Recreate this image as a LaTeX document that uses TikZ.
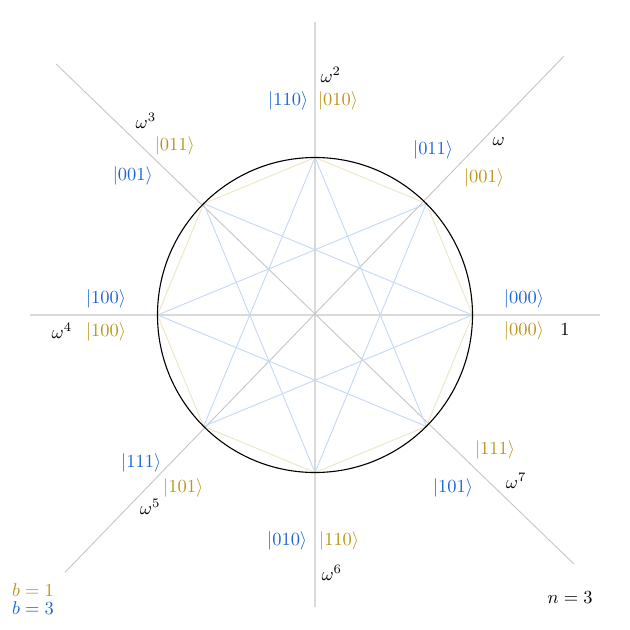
\documentclass[tikz,border=0pt]{standalone}
\usepackage{amsmath,amssymb}
\usepackage{xcolor}
\usepackage{tikz}
\usetikzlibrary{positioning}

\definecolor{ketblue}{RGB}{25,100,215}
\definecolor{ketgold}{RGB}{185,150,20}

\begin{document}
\begin{tikzpicture}[
  axis/.style={draw=gray!30, line width=0.9pt},
  diag/.style={draw=gray!45, line width=0.5pt},
  octo/.style={draw=ketgold!25, line width=0.5pt},
  starline/.style={draw=ketblue!25, line width=0.5pt},
  ketb/.style={text=ketblue, inner sep=1pt},
  ketg/.style={text=ketgold, inner sep=1pt},
  root/.style={inner sep=1pt}
]
\useasboundingbox (-6,-6) rectangle (6,6);

% ---- Axes ----
\coordinate (c)  at (0,0);
\coordinate (xl) at (-5.43,0);
\coordinate (xr) at (5.43,0);
\coordinate (yt) at (0,5.58);
\coordinate (yb) at (0,-5.56);
\coordinate (ne) at (4.74,4.93);
\coordinate (nw) at (-4.93,4.78);
\coordinate (sw) at (-4.76,-4.90);
\coordinate (se) at (4.93,-4.74);

\draw[axis] (xl) -- (xr);
\draw[axis] (yt) -- (yb);
\draw[diag] (ne) -- (sw);
\draw[diag] (nw) -- (se);

% ---- Roots on the circle ----
\foreach \k in {0,...,7} {
  \coordinate (p\k) at (45*\k:3);
}

% ---- Octagon (b=1) and star (b=3) ----
\foreach \k [evaluate=\k as \a using {int(mod(\k+1,8))},
             evaluate=\k as \s using {int(mod(\k+3,8))}] in {0,...,7} {
  \draw[octo] (p\k) -- (p\a);
  \draw[starline] (p\k) -- (p\s);
}

\draw[black, line width=0.6pt] (c) circle (3);

% ---- Labels ----
\node[root] (w0) at (4.76,-0.27) {$1$};
\node[ketb] (b0) at (3.98,0.30)  {$|000\rangle$};
\node[ketg] (g0) at (3.98,-0.30) {$|000\rangle$};

\node[root] (w1) at (3.50,3.31) {$\omega$};
\node[ketb] (b1) at (2.25,3.14) {$|011\rangle$};
\node[ketg] (g1) at (3.22,2.61) {$|001\rangle$};

\node[root] (w2) at (0.30,4.57)  {$\omega^2$};
\node[ketb] (b2) at (-0.51,4.08) {$|110\rangle$};
\node[ketg] (g2) at (0.44,4.08)  {$|010\rangle$};

\node[root] (w3) at (-3.22,3.70) {$\omega^3$};
\node[ketb] (b3) at (-3.47,2.65) {$|001\rangle$};
\node[ketg] (g3) at (-2.67,3.22) {$|011\rangle$};

\node[root] (w4) at (-4.82,-0.30) {$\omega^4$};
\node[ketb] (b4) at (-3.98,0.30)  {$|100\rangle$};
\node[ketg] (g4) at (-3.98,-0.32) {$|100\rangle$};

\node[root] (w5) at (-3.14,-3.66) {$\omega^5$};
\node[ketb] (b5) at (-3.31,-2.82) {$|111\rangle$};
\node[ketg] (g5) at (-2.51,-3.30) {$|101\rangle$};

\node[root] (w6) at (0.32,-4.91)  {$\omega^6$};
\node[ketb] (b6) at (-0.53,-4.30) {$|010\rangle$};
\node[ketg] (g6) at (0.46,-4.30)  {$|110\rangle$};

\node[root] (w7) at (3.83,-3.16) {$\omega^7$};
\node[ketb] (b7) at (2.63,-3.30) {$|101\rangle$};
\node[ketg] (g7) at (3.43,-2.57) {$|111\rangle$};

% ---- Legend ----
\node[ketg] (leg1) at (-5.37,-5.24) {$b=1$};
\node[ketb] (leg3) at (-5.37,-5.58) {$b=3$};
\node[root] (nval) at (4.86,-5.39)  {$n=3$};

\end{tikzpicture}
\end{document}
